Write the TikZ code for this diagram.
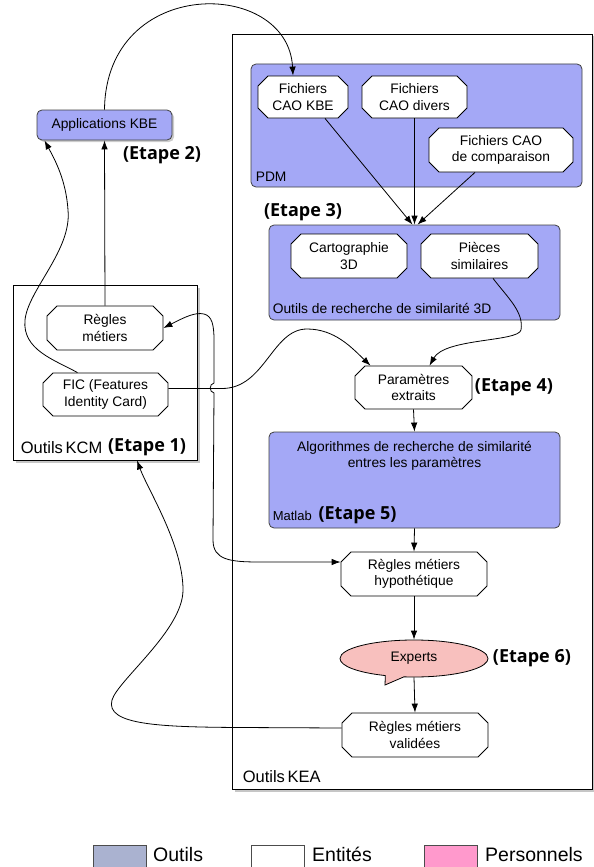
\documentclass[tikz,border=0pt]{standalone}
\usepackage{fontspec}
\setmainfont{Liberation Sans}
\newfontfamily\etapefont{Open Sans}
\usetikzlibrary{positioning,shapes.misc,shapes.callouts,shadows,arrows.meta}

\definecolor{outilbleu}{RGB}{164,168,246}
\definecolor{expertrose}{RGB}{248,192,190}
\definecolor{legendbleu}{RGB}{170,178,208}
\definecolor{legendrose}{RGB}{255,153,204}

\tikzset{
  txt/.style={font=\fontsize{13.8}{16.5}\selectfont},
  grand/.style={font=\fontsize{16.5}{19}\selectfont, inner sep=1pt},
  outil/.style={draw=black!75, fill=outilbleu, rounded corners=5pt, line width=0.8pt},
  entite/.style={txt, draw, fill=white, chamfered rectangle, chamfered rectangle sep=5pt,
    align=center, line width=0.8pt, inner sep=1pt},
  expert/.style={txt, draw, fill=expertrose, ellipse callout, line width=0.8pt},
  cadre/.style={draw, fill=white, line width=0.9pt,
    drop shadow={shadow xshift=2.5pt, shadow yshift=-2.5pt, opacity=0.45}},
  etape/.style={font=\fontsize{18}{20}\etapefont\bfseries},
  fleche/.style={-{Latex[length=9pt,width=6.5pt]}, line width=0.8pt},
  legende/.style={draw=black!70, line width=1pt, minimum width=53pt, minimum height=40pt,
    anchor=north west},
  legtxt/.style={font=\fontsize{19.5}{22}\selectfont, anchor=base west, inner sep=0pt},
}

\begin{document}
\begin{tikzpicture}[x=1pt,y=-1pt]
\useasboundingbox (0,0) rectangle (594,867);

\node[cadre, minimum width=360pt, minimum height=755pt] (kea) at (412,411.5) {};
\node[cadre, minimum width=184pt, minimum height=175pt] (kcm) at (105,372.5) {};
\node[outil, minimum width=331pt, minimum height=123pt] (pdm) at (416.5,125.5) {};
\node[outil, minimum width=291pt, minimum height=95pt] (recherche) at (414.5,272.5) {};
\node[outil, minimum width=291pt, minimum height=96pt] (algo) at (414.5,480) {};
\node[outil, txt, minimum width=135pt, minimum height=30pt,
  drop shadow={shadow xshift=2pt, shadow yshift=-2pt, opacity=0.4}] (apps) at (104.5,125) {Applications KBE};

\node[txt, inner sep=1pt, above right=5pt and 4pt of pdm.south west] (pdmlbl) {PDM};
\node[txt, inner sep=1pt, above right=6pt and 3pt of recherche.south west] (recherchelbl) {Outils de recherche de similarité 3D};
\node[txt, align=center, below=6pt of algo.north] (algotxt) {Algorithmes de recherche de similarité\\entres les paramètres};
\node[font=\fontsize{13}{15}\selectfont, inner sep=1pt, above right=7pt and 3pt of algo.south west] (matlab) {Matlab};
\node[etape, right=2pt of matlab] (etape5) {(Etape 5)};
\node[grand, above right=6pt and 10pt of kea.south west] (kealbl) {Outils\,KEA};
\node[grand, above right=6pt and 7pt of kcm.south west] (kcmlbl) {Outils\,KCM};
\node[etape, right=1pt of kcmlbl] (etape1) {(Etape 1)};

\node[entite, minimum width=90pt, minimum height=42pt] (ficKBE) at (303,97) {Fichiers\\CAO KBE};
\node[entite, minimum width=105pt, minimum height=42pt] (ficDiv) at (414.5,97) {Fichiers\\CAO divers};
\node[entite, minimum width=144pt, minimum height=44pt] (ficCmp) at (501,150) {Fichiers CAO\\de comparaison};
\node[entite, minimum width=116pt, minimum height=44pt] (carto) at (349,256) {Cartographie\\3D};
\node[entite, minimum width=117pt, minimum height=44pt] (pieces) at (479.5,256) {Pièces\\similaires};
\node[entite, minimum width=117pt, minimum height=43pt] (params) at (413.5,387.5) {Paramètres\\extraits};
\node[entite, minimum width=146pt, minimum height=44pt] (hypo) at (414,574) {Règles métiers\\hypothétique};
\node[expert, minimum width=148pt, minimum height=37pt, callout absolute pointer={(385,685)}] (experts) at (414,658.5) {Experts};
\node[entite, minimum width=146pt, minimum height=44pt] (valid) at (415,735) {Règles métiers\\validées};
\node[entite, minimum width=116pt, minimum height=44pt] (regles) at (105,328) {Règles\\métiers};
\node[entite, minimum width=125pt, minimum height=43pt] (fic) at (105.5,394.5) {FIC (Features\\Identity Card)};

\node[etape] (etape2) at (162,155) {(Etape 2)};
\node[etape] (etape3) at (303,212) {(Etape 3)};
\node[etape, right=-1pt of params] (etape4) {(Etape 4)};
\node[etape, right=1pt of experts] (etape6) {(Etape 6)};

\draw[fleche] (apps.north) .. controls (106,-25) and (288,-22) .. ([xshift=-10pt]ficKBE.north);
\draw[fleche] ([xshift=-28pt]fic.north) .. controls (55,360) and (22,350) .. (25,320)
  .. controls (28,290) and (72,250) .. (68,210) .. controls (66,180) and (55,160) .. ([xshift=-60pt]apps.south);
\draw[fleche] (regles.north) -- (apps.south);
\draw[fleche] ([yshift=6pt]fic.east) -- (222,388.5) .. controls (265,388.5) and (272,329) .. (307,329)
  .. controls (335,329) and (352,348) .. ([xshift=-43pt]params.north);
\draw[{Latex[length=9pt,width=6.5pt]}-{Latex[length=9pt,width=6.5pt]}, line width=0.8pt]
  (regles.east) .. controls (185,317) and (195,312) .. (204,314)
  .. controls (212,316) and (214,325) .. (214,340) -- (214,383)
  .. controls (209,384) and (209,392) .. (214,393) -- (213,540)
  .. controls (213,560) and (230,562) .. (260,562) -- ([yshift=12pt]hypo.west);
\draw[fleche] ([xshift=22pt]ficKBE.south) -- ([xshift=-2pt]recherche.north);
\draw[fleche] (ficDiv.south) -- (recherche.north);
\draw[fleche] ([xshift=-26pt]ficCmp.south) -- ([xshift=3pt]recherche.north);
\draw[fleche] ([xshift=13.5pt]pieces.south) .. controls (508,298) and (524,312) .. (521,330)
  .. controls (518,342) and (445,338) .. ([xshift=16pt]params.north);
\draw[fleche] (params.south) -- (algo.north);
\draw[fleche] (algo.south) -- (hypo.north);
\draw[fleche] (hypo.south) -- (experts.north);
\draw[fleche] (experts.south) -- (valid.north);
\draw[fleche] ([yshift=7pt]valid.west) -- (240,727.5) .. controls (160,727) and (105,725) .. (112,700)
  .. controls (118,680) and (183,630) .. (183,590) .. controls (183,545) and (148,490) .. ([xshift=32pt]kcm.south);

\node[legende, fill=legendbleu] (legoutil) at (93,845) {};
\node[legtxt] (legoutiltxt) at (153,861) {Outils};
\node[legende, fill=white] (legentite) at (251,845) {};
\node[legtxt] (legentitetxt) at (312,861) {Entités};
\node[legende, fill=legendrose] (legperso) at (424,845) {};
\node[legtxt] (legpersotxt) at (485,861) {Personnels};
\end{tikzpicture}
\end{document}
